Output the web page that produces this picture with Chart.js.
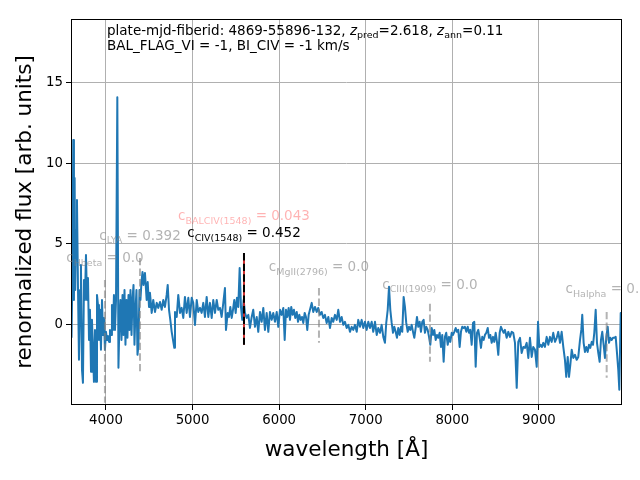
<!DOCTYPE html>
<html><head><meta charset="utf-8">
<script src="https://cdn.jsdelivr.net/npm/chart.js@4.4.1/dist/chart.umd.min.js"></script>
<style>html,body{margin:0;padding:0;background:#fff}#wrap{width:640px;height:480px;position:relative}</style>
</head><body><div id="wrap"><canvas id="c"></canvas></div>
<script>
// observed wavelength [Angstrom]
const wavelength = [
3602,3613,3622,3630,3638,3645,3654,3665,3677,3688,3700,3711,3723,3734,3746,3757,3769,3781,3792,3804,
3815,3827,3838,3850,3861,3873,3885,3896,3908,3919,3931,3942,3954,3965,3977,3988,4000,4012,4023,4035,
4046,4058,4069,4081,4092,4104,4116,4131,4144,4156,4167,4179,4191,4202,4214,4225,4237,4248,4260,4271,
4283,4295,4306,4318,4329,4341,4352,4364,4375,4387,4398,4410,4422,4433,
4450,4470,4482,4497,4508,4528,4546,4566,4586,4604,4624,4643,4662,4681,4701,4713,4728,4743,4759,4774,
4789,4797,4817,4835,4855,4874,4893,4912,4932,4951,4970,4990,5008,5028,5048,5066,5086,5105,5124,5143,
5163,5182,5201,5221,5239,5259,5279,5297,5317,5336,5355,5374,5386,5406,5421,5436,5452,5467,5482,5498,
5513,5528,5544,5559,5574,5590,5605,5625,5644,5663,5683,5701,5721,5741,5759,5779,5798,5817,
5836,5856,5875,5894,5914,5932,5952,5972,5990,6010,6029,6048,6064,6079,6094,6110,6125,6140,6156,6171,
6186,6203,6218,6233,6249,6264,6279,6295,6310,6325,6341,6356,6376,6394,6414,6434,6452,6472,6491,6510,
6529,6549,6568,6587,6607,6625,6645,6665,6683,6703,6722,6741,6760,6780,6799,6818,6838,6856,6876,6896,
6914,6934,6953,6972,6991,7011,7030,7049,7069,7087,7107,7127,7145,7165,7184,7203,7222,
7237,7254,7269,7284,7300,7315,7330,7346,7361,7376,7392,7407,7422,7438,7453,7468,7485,7500,7515,7531,
7546,7561,7577,7592,7607,7623,7638,7653,7669,7684,7700,7716,7731,7746,7762,7777,7792,7808,7823,7838,
7854,7869,7884,7900,7915,7930,7947,7962,7977,7993,8008,8023,8039,8054,8069,8085,8100,8115,8131,8146,
8162,8178,8193,8208,8224,8239,8254,8270,8285,8300,8316,8331,8346,8362,8377,8393,8409,8424,8439,8455,
8470,8485,8501,8516,8531,8547,8562,8577,8593,
8608,8628,8647,8666,8686,8704,8724,8744,8762,8782,8801,8820,8839,8859,8878,8897,8917,8935,8955,8975,
8990,9005,9021,9036,9051,9070,9090,9109,9128,9148,9166,9186,9206,9224,9244,9263,9282,9301,9316,9333,
9348,9363,9379,9397,9417,9437,9455,9475,9490,9501,9517,9532,9548,9564,9579,9594,9610,9625,9640,9656,
9671,9686,9702,9717,9732,9748,9763,9779,9795,9810,9825,9841,9856,9871,9887,9902,9917,9929,9945,9956
];
// renormalized flux [arb. units]
const flux = [
-0.80,3.40,11.42,1.54,9.07,2.16,5.86,7.72,2.16,-2.16,1.54,3.70,-2.78,-3.58,2.78,1.54,4.32,1.54,2.90,-0.93,
0.93,-2.90,0.31,-1.54,-3.52,-0.31,-3.52,1.85,1.23,-0.93,0.93,-1.54,1.54,-0.62,0.43,-1.54,-0.43,-0.93,-0.68,-1.05,
-0.31,-0.62,1.23,-0.31,1.85,-0.31,1.54,14.07,-2.65,0.31,1.54,-0.93,1.85,-0.62,2.16,-1.23,1.54,-0.80,1.85,-0.31,
2.16,-0.62,1.54,2.47,-1.23,0.93,2.16,-1.85,-1.23,2.16,1.54,2.65,3.27,2.47,
3.21,1.54,2.65,1.11,1.98,0.74,1.54,0.80,1.36,1.05,1.42,0.93,1.54,1.11,1.85,2.47,0.93,0.31,-0.43,-0.93,
-1.42,0.80,0.49,1.85,0.74,1.05,0.43,1.73,0.74,1.67,0.49,1.67,1.36,0.00,1.54,0.80,1.05,0.74,1.36,0.49,
1.73,0.49,1.36,0.43,1.54,0.74,1.54,0.93,1.05,0.49,1.36,2.28,-0.31,0.74,0.49,1.11,0.43,0.93,1.54,0.74,
1.67,1.11,3.52,1.11,0.31,1.54,0.74,0.43,0.62,-0.19,0.49,0.93,-0.12,0.49,-0.43,0.80,0.19,1.05,
-0.31,0.74,-0.43,0.80,0.31,0.74,0.19,0.80,-0.12,0.93,0.62,1.05,-0.93,0.93,0.49,1.05,0.31,1.11,0.62,0.93,
0.43,0.80,0.19,0.62,0.31,0.49,0.12,0.74,0.49,-0.31,0.62,0.93,1.36,0.80,1.11,0.80,1.05,0.62,0.80,0.43,
0.62,0.12,0.49,-0.19,0.43,0.19,0.62,0.31,0.93,0.19,0.49,0.00,0.19,-0.19,0.00,-0.43,-0.12,-0.31,0.00,-0.43,
0.31,-0.12,0.31,-0.19,0.19,-0.31,0.19,-0.19,0.19,-0.43,0.19,-0.62,-0.19,-0.49,0.00,-0.74,-1.11,
0.12,0.93,2.35,0.93,0.12,-0.49,-0.12,-0.43,-0.80,-0.19,-0.62,-0.12,-0.43,1.73,1.11,0.12,-0.43,-0.12,-0.31,0.00,
-0.43,-0.80,-0.19,0.49,-0.12,0.19,-0.43,0.19,0.31,-0.49,-0.12,-0.31,-0.74,-1.23,-0.19,-0.62,-0.31,-0.93,-0.62,-0.80,
-0.49,-1.36,-0.62,-2.28,-0.74,-0.49,-1.23,-0.74,-1.05,-0.49,-0.62,-0.43,-0.19,-0.43,-0.31,-1.36,-0.43,-0.12,-0.19,-0.12,
-0.43,-0.12,-0.49,-0.31,-1.23,0.12,0.19,-2.59,-0.49,-0.31,-0.80,-1.42,-0.74,-0.93,-0.62,-0.49,-0.19,-0.80,-0.62,-1.11,
-0.74,-1.05,-0.49,-1.05,-1.85,-0.49,-0.12,-0.31,-0.49,
-0.31,-0.80,-0.43,-0.74,-0.43,-0.49,-1.11,-3.89,-1.05,-0.80,-1.73,-1.36,-1.42,-1.11,-2.04,-0.80,-1.98,-1.36,-1.54,-2.59,
0.19,-1.36,-1.23,-1.36,-1.11,-1.36,-0.74,-1.23,-0.74,-1.05,-0.49,-1.05,-0.80,-0.43,-1.11,-0.43,-1.36,-2.16,-3.21,-1.98,
-3.21,-2.47,-1.54,-2.04,-1.85,-2.16,-1.98,-0.93,-0.31,0.62,-1.11,-1.67,-1.36,-1.67,-1.23,-1.42,-1.05,-1.23,-0.49,0.93,
-1.11,-1.73,-2.28,-0.93,-0.43,-1.23,-2.04,-0.74,-0.12,-1.11,-0.80,-0.93,-0.80,-0.80,-0.74,-1.73,-2.78,-4.01,0.74,0.74
];
const xTicks = [4000, 5000, 6000, 7000, 8000, 9000];
const yTicks = [0, 5, 10, 15];
const xRange = [3596, 9960];
const yRange = [-4.95, 18.9];

// emission line markers
const lineNames  = ['Hbeta', 'LYA', 'MgII(2796)', 'CIII(1909)', 'Halpha', 'BALCIV(1548)', 'CIV(1548)'];
const lineWave   = [3988, 4393, 6460, 7742, 9783, 5594, 5594];
const lineTop    = [2.78, 4.14, 2.28, 1.30, 0.80, 4.44, 4.44];
const lineBottom = [-4.81, -2.96, -1.11, -2.28, -3.27, -1.23, -1.23];
const lineCoef   = ['0.0', '0.392', '0.0', '0.0', '0.0', '0.043', '0.452'];
const labelY     = [3.86, 5.25, 3.30, 2.22, 1.94, 6.48, 5.43];

const GRAY = 'rgba(128,128,128,0.6)';
const lineStroke = [GRAY, GRAY, GRAY, GRAY, GRAY, 'rgba(205,30,30,0.9)', '#000000'];
const lineDash   = [[7.4,3.2],[7.4,3.2],[7.4,3.2],[7.4,3.2],[7.4,3.2],[],[7.4,3.2]];
const labelColor = [GRAY, GRAY, GRAY, GRAY, GRAY, 'rgba(255,0,0,0.3)', '#000000'];

const FONT = "'DejaVu Sans', 'Liberation Sans', sans-serif";
Chart.defaults.font.family = FONT;

const n = Math.min(wavelength.length, flux.length);
const spectrum = [];
for (let i = 0; i < n; i++) spectrum.push({x: wavelength[i], y: flux[i]});

const datasets = [];
// marker lines first => drawn on top (black CIV is index 0)
for (let k = lineNames.length - 1; k >= 0; k--) {
  datasets.push({
    label: lineNames[k],
    data: [{x: lineWave[k], y: lineTop[k]}, {x: lineWave[k], y: lineBottom[k]}],
    borderColor: lineStroke[k], borderWidth: 2, borderDash: lineDash[k],
    pointRadius: 0, fill: false, tension: 0
  });
}
datasets.push({label: 'spectrum', data: spectrum, borderColor: '#1f77b4', borderWidth: 2,
  pointRadius: 0, fill: false, tension: 0, borderJoinStyle: 'round'});

function drawRich(ctx, segs, x, y, align) {
  let total = 0;
  segs.forEach(s => { ctx.font = (s.italic ? 'italic ' : '') + s.size + 'px ' + FONT; s.w = ctx.measureText(s.t).width; total += s.w; });
  let cx = align === 'center' ? x - total / 2 : x;
  segs.forEach(s => {
    ctx.font = (s.italic ? 'italic ' : '') + s.size + 'px ' + FONT;
    ctx.fillText(s.t, cx, y + (s.dy || 0));
    cx += s.w;
  });
}

const overlay = {
  id: 'overlay',
  afterDraw(chart) {
    const {ctx, chartArea: a, scales} = chart;
    ctx.save();
    ctx.strokeStyle = '#000'; ctx.lineWidth = 1;
    ctx.strokeRect(Math.round(a.left) + 0.5, Math.round(a.top) + 0.5, Math.round(a.right - a.left) - 1, Math.round(a.bottom - a.top) - 1);
    ctx.textAlign = 'left'; ctx.textBaseline = 'alphabetic';
    // labels for line coefficients
    for (let k = 0; k < lineNames.length; k++) {
      const px = scales.x.getPixelForValue(lineWave[k]);
      const py = scales.y.getPixelForValue(labelY[k]);
      ctx.fillStyle = labelColor[k];
      drawRich(ctx, [
        {t: 'c', size: 13.5},
        {t: lineNames[k].replace(/[()]/g, m => m), size: 9.5, dy: 3.5},
        {t: ' = ' + lineCoef[k], size: 13.5}
      ], px, py, 'center');
    }
    // header text
    ctx.fillStyle = '#000';
    const hx = a.left + 36, hy = a.top + 16;
    drawRich(ctx, [
      {t: 'plate-mjd-fiberid: 4869-55896-132, ', size: 13.5},
      {t: 'z', size: 13.5, italic: true},
      {t: 'pred', size: 9.5, dy: 3},
      {t: '=2.618, ', size: 13.5},
      {t: 'z', size: 13.5, italic: true},
      {t: 'ann', size: 9.5, dy: 3},
      {t: '=0.11', size: 13.5}
    ], hx, hy, 'left');
    drawRich(ctx, [{t: 'BAL_FLAG_VI = -1, BI_CIV = -1 km/s', size: 13.5}], hx, hy + 14.5, 'left');
    ctx.restore();
  }
};

new Chart(document.getElementById('c'), {
  type: 'line',
  data: {datasets},
  options: {
    responsive: true, maintainAspectRatio: false, animation: false, devicePixelRatio: 1,
    layout: {padding: {left: 0, right: 18, top: 19, bottom: 0}},
    plugins: {legend: {display: false}, tooltip: {enabled: false}},
    scales: {
      x: {
        type: 'linear', min: xRange[0], max: xRange[1],
        afterBuildTicks: s => { s.ticks = xTicks.map(v => ({value: v})); },
        afterFit: s => { s.height = 75; },
        ticks: {callback: v => String(v), color: '#000', font: {size: 13.3}, padding: 3, maxRotation: 0},
        grid: {color: '#b0b0b0', lineWidth: 1, tickColor: '#000', tickLength: 5},
        border: {display: false},
        title: {display: true, text: 'wavelength [Å]', color: '#000', font: {size: 21.5}, padding: {top: 0, bottom: 17}}
      },
      y: {
        type: 'linear', min: yRange[0], max: yRange[1],
        afterBuildTicks: s => { s.ticks = yTicks.map(v => ({value: v})); },
        afterFit: s => { s.width = 71; },
        ticks: {callback: v => String(v), color: '#000', font: {size: 13.3}, padding: 3},
        grid: {color: '#b0b0b0', lineWidth: 1, tickColor: '#000', tickLength: 5},
        border: {display: false},
        title: {display: true, text: 'renormalized flux [arb. units]', color: '#000', font: {size: 21.5}, padding: {top: 13, bottom: 0}}
      }
    }
  },
  plugins: [overlay]
});
</script>
</body></html>
